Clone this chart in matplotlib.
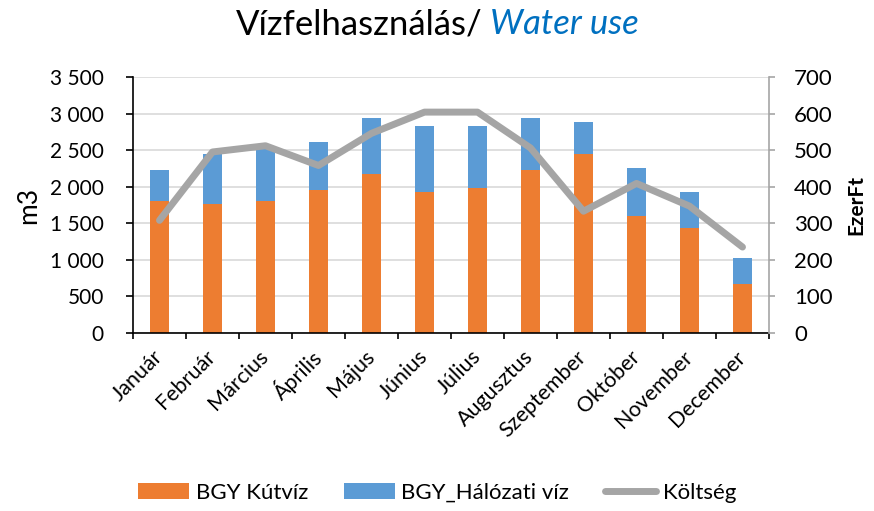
import matplotlib.pyplot as plt
import matplotlib.transforms as mtransforms
import numpy as np

plt.rcParams['font.family'] = ['Lato', 'DejaVu Sans']

months = ["Január", "Február", "Március", "Április", "Május", "Június",
          "Július", "Augusztus", "Szeptember", "Október", "November", "December"]
kutviz = [1810, 1760, 1810, 1950, 2170, 1925, 1980, 2225, 2445, 1600, 1435, 665]
halozati = [415, 690, 730, 660, 765, 905, 850, 715, 440, 655, 490, 355]
koltseg = [308, 495, 512, 458, 546, 604, 604, 506, 333, 409, 347, 235]

orange = "#ED7D31"
blue = "#5B9BD5"
gray = "#A5A5A5"

fig = plt.figure(figsize=(8.74, 5.11), dpi=100)
ax = fig.add_axes([133 / 874, 1 - 333 / 511, (769 - 133) / 874, (333 - 77) / 511])
x = np.arange(len(months))

b1 = ax.bar(x, kutviz, width=0.34, color=orange, label="BGY Kútvíz", zorder=2)
b2 = ax.bar(x, halozati, width=0.34, bottom=kutviz, color=blue,
            label="BGY_Hálózati víz", zorder=2)

ax.set_xlim(-0.5, 11.5)
ax.set_ylim(0, 3500)
ax.set_yticks(range(0, 3501, 500))
ax.set_yticklabels([f"{v:,}".replace(",", " ") for v in range(0, 3501, 500)], fontsize=15)
ax.yaxis.grid(True, color="#D9D9D9", linewidth=1.2, zorder=0)
ax.set_axisbelow(True)
ax.set_xticks(x)
ax.set_xticklabels(months, rotation=45, ha="right", va="center",
                   rotation_mode="anchor", fontsize=15.5)
shift = mtransforms.ScaledTranslation(9 / 100, 0, fig.dpi_scale_trans)
for lab in ax.get_xticklabels():
    lab.set_transform(lab.get_transform() + shift)
ax.set_xticks(np.arange(-0.5, 12, 1), minor=True)
ax.tick_params(axis="x", which="major", length=0, pad=15)
ax.tick_params(axis="x", which="minor", length=4, direction="out", width=1.2)
ax.tick_params(axis="y", length=5, width=1.2, pad=16)
ax.spines["top"].set_visible(False)
ax.spines["right"].set_visible(False)
ax.spines["left"].set_linewidth(1.2)
ax.spines["bottom"].set_linewidth(1.2)
ax.set_ylabel("m3", fontsize=19, labelpad=6)

ax2 = ax.twinx()
l1, = ax2.plot(x, koltseg, color=gray, linewidth=5, solid_capstyle="round",
               solid_joinstyle="round", label="Költség", zorder=3)
ax2.set_ylim(0, 700)
ax2.set_yticks(range(0, 701, 100))
ax2.tick_params(axis="y", labelsize=16, length=4, color=gray, width=1.2, pad=14)
for s in ["top", "left", "bottom"]:
    ax2.spines[s].set_visible(False)
ax2.spines["right"].set_color(gray)
ax2.spines["right"].set_linewidth(1.2)
ax2.set_ylabel("EzerFt", fontsize=15, fontweight="bold", labelpad=10)

fig.text(483 / 874, 0.953, "Vízfelhasználás/", fontsize=25, ha="right", va="center")
fig.text(490 / 874, 0.953, "Water use", fontsize=25, ha="left", va="center",
         style="italic", color="#0070C0")

fig.legend(handles=[b1, b2, l1], loc="center", bbox_to_anchor=(0.5, 1 - 493 / 511),
           ncol=3, frameon=False, fontsize=16, handlelength=2.3, handletextpad=0.3,
           columnspacing=1.6)

fig.savefig("out.png", dpi=100)
